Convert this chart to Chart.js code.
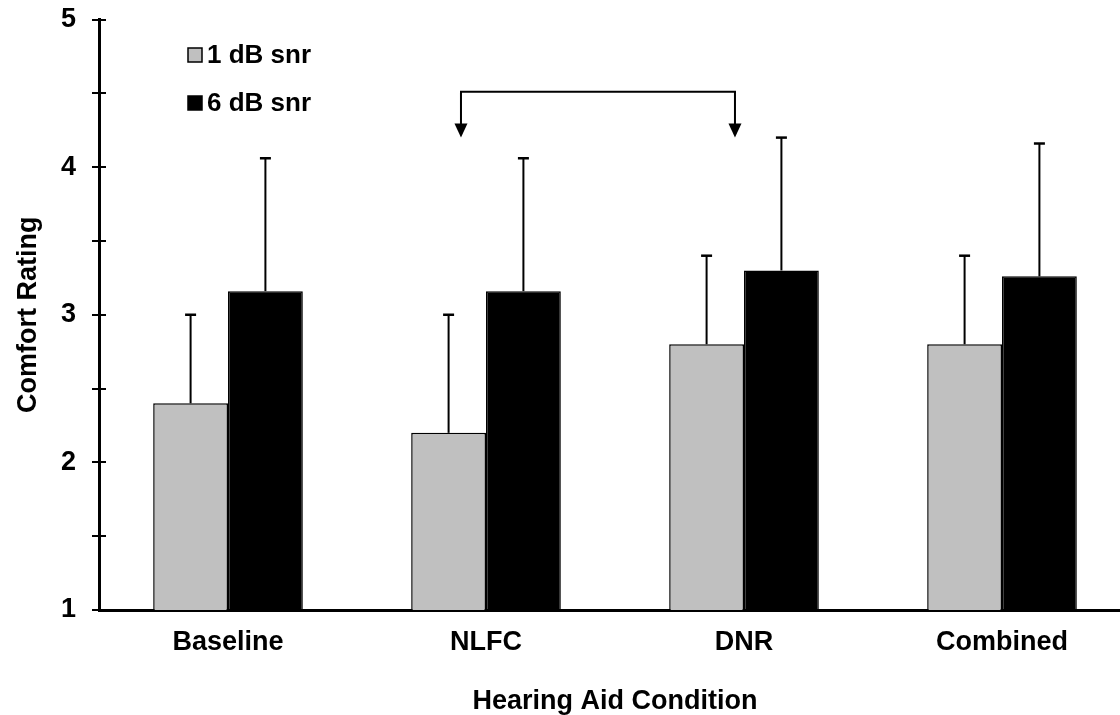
<!DOCTYPE html>
<html>
<head>
<meta charset="utf-8">
<title>Comfort Rating</title>
<script src="https://cdn.jsdelivr.net/npm/chart.js@4/dist/chart.umd.min.js"></script>
<style>
  html, body { margin: 0; padding: 0; background: #fff; overflow: hidden; }
  #wrap { width: 1131px; height: 715px; }
</style>
</head>
<body>
<div id="wrap"><canvas id="myChart" width="1131" height="715"></canvas></div>
<script>
'use strict';
// data
let conditions = ['Baseline', 'NLFC', 'DNR', 'Combined'];
let seriesNames = ['1 dB snr', '6 dB snr'];
let lowSnr = [2.4, 2.2, 2.8, 2.8];
let highSnr = [3.16, 3.16, 3.3, 3.26];
let lowSnrErr = [0.6, 0.8, 0.6, 0.6];
let highSnrErr = [0.9, 0.9, 0.9, 0.9];
let yTicks = [1, 2, 3, 4, 5];

// bracket between NLFC and DNR (category index, value units)
let bracketFrom = 0.903;
let bracketTo = 1.965;
let bracketTop = 4.51;
let bracketTip = 4.2;

let fontFam = '"Liberation Sans", Arial, Helvetica, sans-serif';

// error bars, inner ticks, bracket and legend
let extrasPlugin = {
    id: 'extras',
    afterDatasetsDraw(chart) {
        let ctx = chart.ctx;
        let x = chart.scales.x;
        let y = chart.scales.y;
        let errs = [lowSnrErr, highSnrErr];
        ctx.save();
        ctx.strokeStyle = '#000';
        ctx.fillStyle = '#000';

        // error bars (upper only)
        chart.data.datasets.forEach(function (ds, di) {
            let meta = chart.getDatasetMeta(di);
            meta.data.forEach(function (bar, i) {
                let top = y.getPixelForValue(ds.data[i] + errs[di][i]);
                ctx.lineWidth = 2;
                ctx.beginPath();
                ctx.moveTo(bar.x, bar.y);
                ctx.lineTo(bar.x, top);
                ctx.stroke();
                ctx.lineWidth = 2.5;
                ctx.beginPath();
                ctx.moveTo(bar.x - 5.5, top);
                ctx.lineTo(bar.x + 5.5, top);
                ctx.stroke();
            });
        });

        // ticks on the inner side of the y axis
        ctx.lineWidth = 2;
        for (let v = y.min; v <= y.max; v += 0.5) {
            let py = Math.round(y.getPixelForValue(v));
            ctx.beginPath();
            ctx.moveTo(chart.chartArea.left, py);
            ctx.lineTo(chart.chartArea.left + 7, py);
            ctx.stroke();
        }

        // bracket with arrows
        let bx1 = x.getPixelForValue(bracketFrom);
        let bx2 = x.getPixelForValue(bracketTo);
        let by = y.getPixelForValue(bracketTop);
        let tip = y.getPixelForValue(bracketTip);
        ctx.lineWidth = 2;
        ctx.beginPath();
        ctx.moveTo(bx1, tip - 12);
        ctx.lineTo(bx1, by);
        ctx.lineTo(bx2, by);
        ctx.lineTo(bx2, tip - 12);
        ctx.stroke();
        [bx1, bx2].forEach(function (bx) {
            ctx.beginPath();
            ctx.moveTo(bx - 6.5, tip - 14);
            ctx.lineTo(bx + 6.5, tip - 14);
            ctx.lineTo(bx, tip);
            ctx.closePath();
            ctx.fill();
        });

        // legend
        ctx.font = 'bold 26px ' + fontFam;
        ctx.textBaseline = 'middle';
        ctx.textAlign = 'left';
        let rows = [55, 103];
        chart.data.datasets.forEach(function (ds, di) {
            let cy = rows[di];
            ctx.fillStyle = ds.backgroundColor;
            ctx.fillRect(188, cy - 7, 14, 14);
            ctx.lineWidth = 1.5;
            ctx.strokeStyle = '#000';
            ctx.strokeRect(188, cy - 7, 14, 14);
            ctx.fillStyle = '#000';
            ctx.fillText(ds.label, 207, cy + 1);
        });
        ctx.restore();
    }
};

let ctx = document.getElementById('myChart').getContext('2d');
let myChart = new Chart(ctx, {
    type: 'bar',
    data: {
        labels: conditions,
        datasets: [{
            label: seriesNames[0],
            data: lowSnr,
            backgroundColor: '#c0c0c0',
            borderColor: '#000',
            borderWidth: 1.5,
            borderSkipped: false
        }, {
            label: seriesNames[1],
            data: highSnr,
            backgroundColor: '#000',
            borderColor: '#000',
            borderWidth: 1.5,
            borderSkipped: false
        }]
    },
    options: {
        responsive: false,
        animation: false,
        layout: { padding: { top: 19.5, right: 0, left: 0, bottom: 0 } },
        datasets: {
            bar: { categoryPercentage: 0.58, barPercentage: 1 }
        },
        plugins: {
            legend: { display: false },
            tooltip: { enabled: false }
        },
        scales: {
            x: {
                grid: { display: false, drawTicks: false },
                border: { display: true, color: '#000', width: 3 },
                ticks: {
                    color: '#000',
                    padding: 16,
                    font: { family: fontFam, size: 27, weight: 'bold' }
                },
                title: {
                    display: true,
                    text: 'Hearing Aid Condition',
                    color: '#000',
                    padding: { top: 0, bottom: 0 },
                    font: { family: fontFam, size: 27, weight: 'bold', lineHeight: 1 }
                },
                afterFit(scale) {
                    scale.height = 105;
                    scale.paddingLeft = 0;
                    scale.paddingRight = 0;
                }
            },
            y: {
                min: 1,
                max: 5,
                grid: {
                    drawOnChartArea: false,
                    drawTicks: true,
                    tickLength: 7,
                    color: '#000',
                    lineWidth: 2
                },
                border: { display: true, color: '#000', width: 3 },
                ticks: {
                    stepSize: 0.5,
                    color: '#000',
                    padding: 16,
                    font: { family: fontFam, size: 27, weight: 'bold' },
                    callback: function (v) { return yTicks.includes(v) ? v : ''; }
                },
                title: {
                    display: true,
                    text: 'Comfort Rating',
                    color: '#000',
                    padding: { top: 15, bottom: 0 },
                    font: { family: fontFam, size: 27, weight: 'bold', lineHeight: 1 }
                },
                afterFit(scale) {
                    scale.width = 99;
                    scale.paddingTop = 0;
                    scale.paddingBottom = 0;
                }
            }
        }
    },
    plugins: [extrasPlugin]
});
</script>
</body>
</html>
